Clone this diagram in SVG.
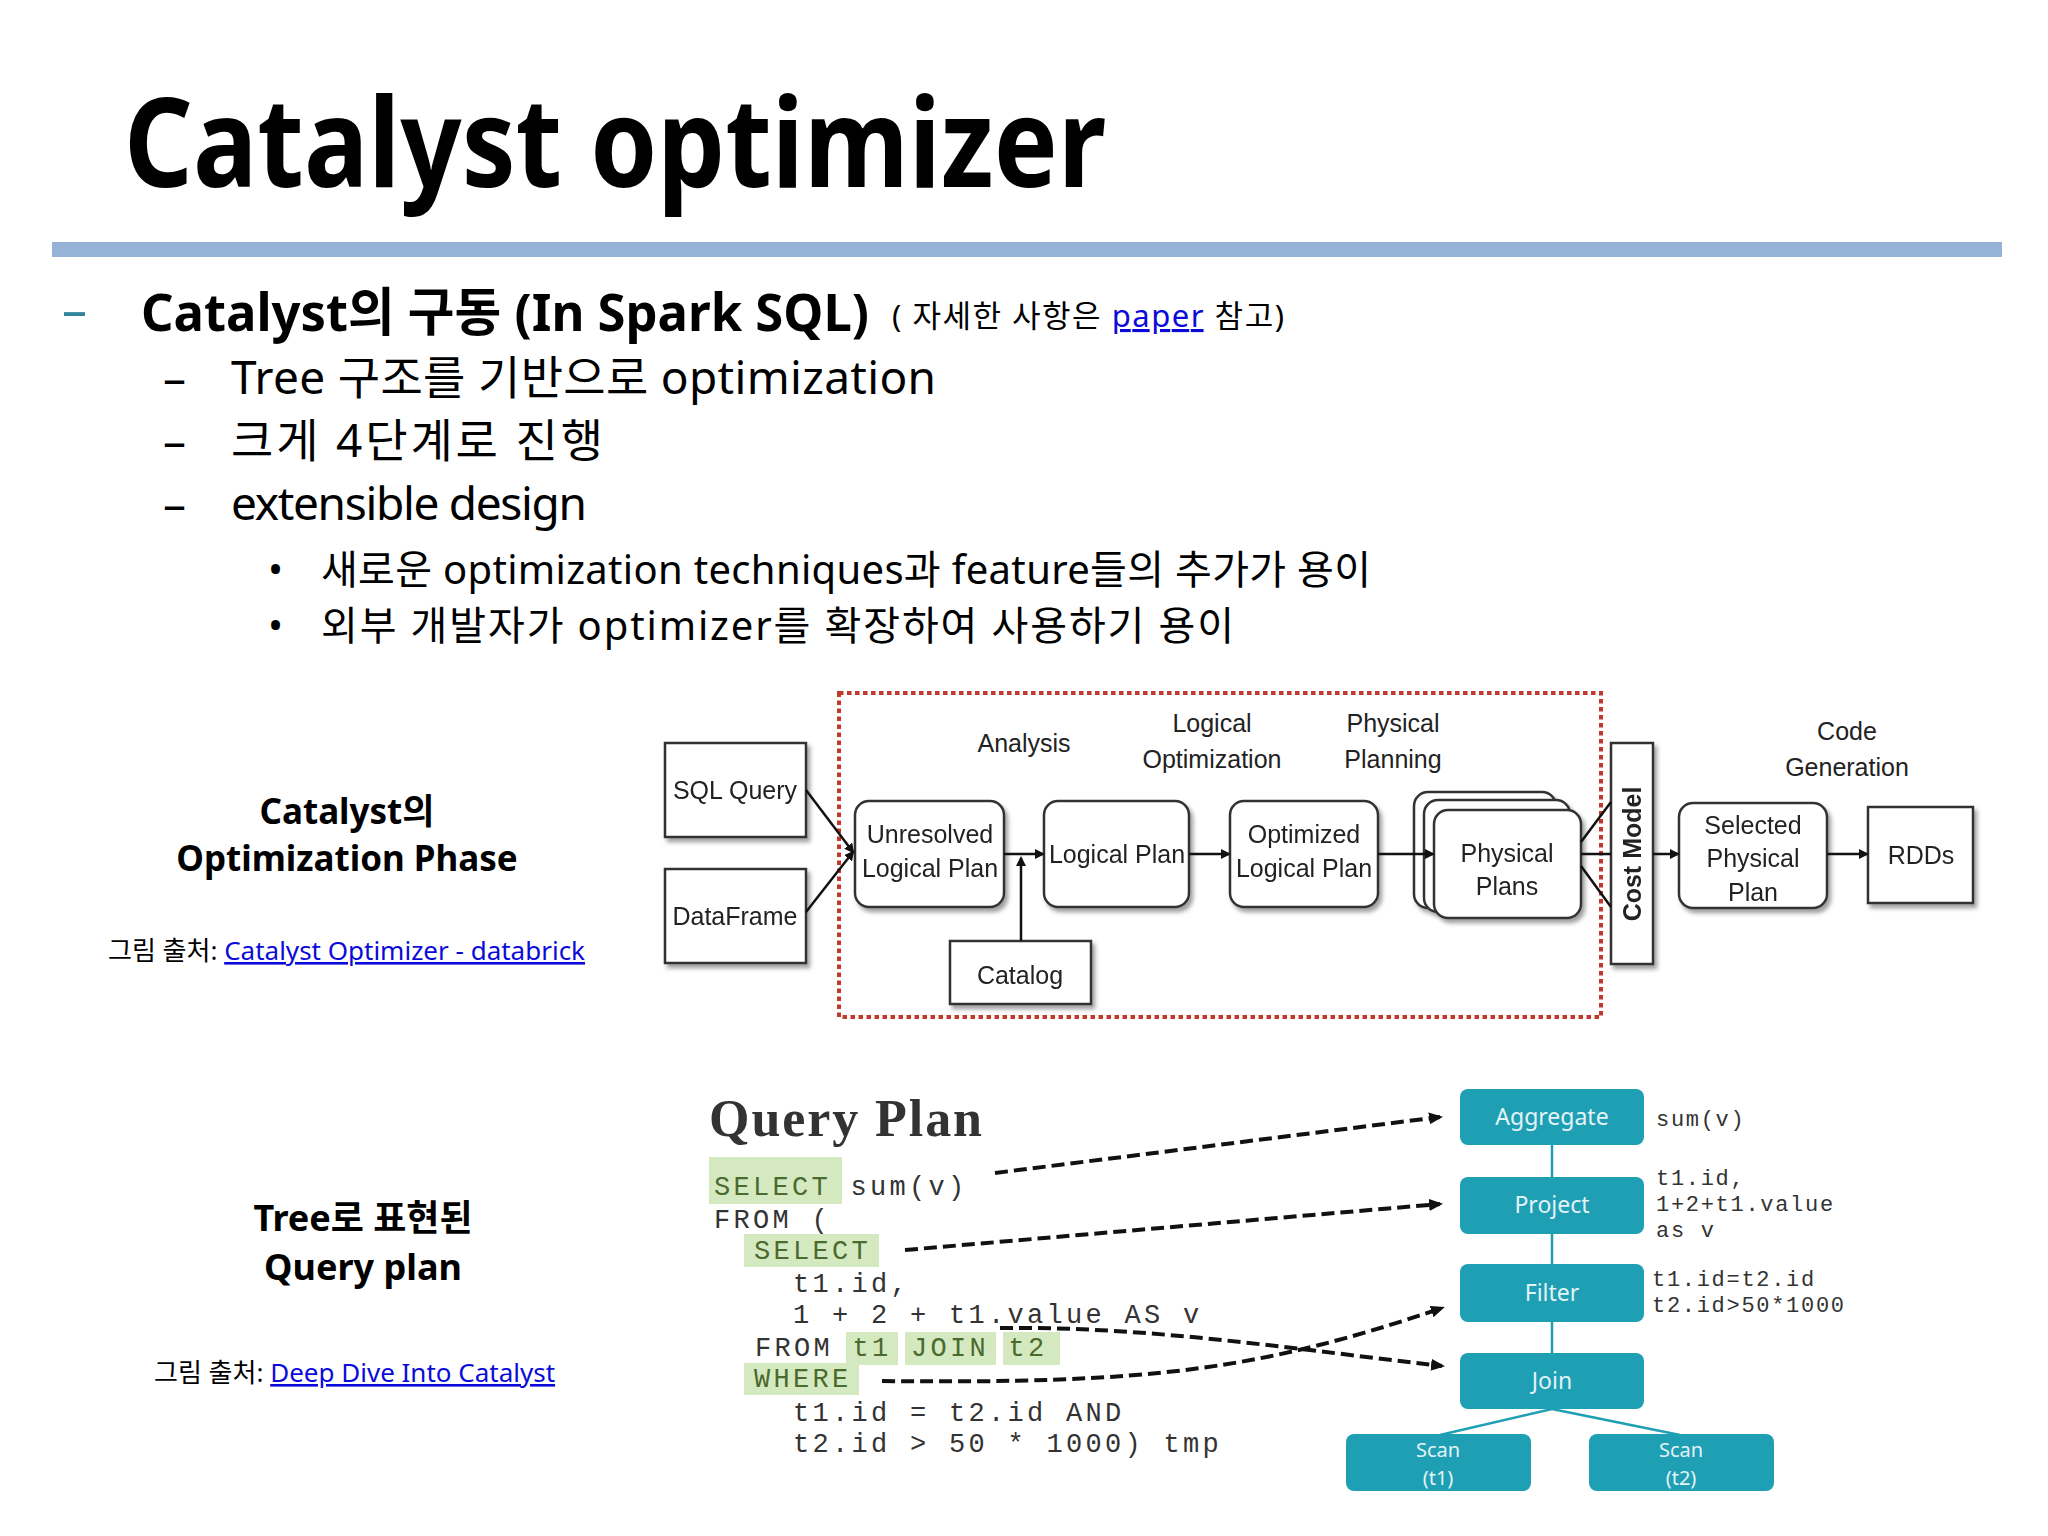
<svg xmlns="http://www.w3.org/2000/svg" width="2048" height="1536" viewBox="0 0 2048 1536">
<style>
.k{font-family:"Noto Sans","Noto Sans CJK KR",sans-serif;fill:#000}
.b{font-weight:bold}
.lnk{fill:#0b0bd9;text-decoration:underline}
.d{font-family:"Liberation Sans",Arial,sans-serif;font-size:25px;fill:#222;text-anchor:middle}
.box{fill:#fff;stroke:#333;stroke-width:2.5}
.ar{stroke:#111;stroke-width:2.5;fill:none}
.code{font-family:"Liberation Mono",monospace;font-size:27px;letter-spacing:3.3px;fill:#333}
.hl{fill:#d5e9c0}
.hlt{fill:#4a6a2e}
.tn{fill:#1e9fb4}
.tt{font-family:"Noto Sans",sans-serif;font-size:23px;fill:#e3f3f6;text-anchor:middle}
.ts{font-family:"Noto Sans",sans-serif;font-size:20px;fill:#e3f3f6;text-anchor:middle}
.an{font-family:"Liberation Mono",monospace;font-size:22px;letter-spacing:1.7px;fill:#333}
.da{stroke:#111;stroke-width:4;stroke-dasharray:13 6;fill:none}
</style>
<defs>
<marker id="ah" markerWidth="10" markerHeight="10" refX="8" refY="5" orient="auto" markerUnits="userSpaceOnUse"><path d="M0,0 L10,5 L0,10 z" fill="#111"/></marker>
<marker id="ah2" markerWidth="14" markerHeight="12" refX="11" refY="6" orient="auto" markerUnits="userSpaceOnUse"><path d="M0,0 L14,6 L0,12 z" fill="#111"/></marker>
<filter id="sh" x="-10%" y="-10%" width="130%" height="130%"><feDropShadow dx="3" dy="4" stdDeviation="2" flood-color="#777" flood-opacity="0.7"/></filter>
</defs>
<rect width="2048" height="1536" fill="#fff"/>

<g id="header">
<text class="k b" x="124" y="187" font-size="124" textLength="982" lengthAdjust="spacingAndGlyphs">Catalyst optimizer</text>
<rect x="52" y="242" width="1950" height="15" fill="#94b3d6"/>
</g>

<g id="bullets">
<text class="k" x="62" y="327" font-size="50" style="fill:#31849b">–</text>
<text class="k b" x="141" y="331" font-size="52" textLength="728" lengthAdjust="spacingAndGlyphs">Catalyst의 구동 (In Spark SQL)</text>
<text class="k" x="892" y="327" font-size="31" textLength="392">( 자세한 사항은 <tspan class="lnk">paper</tspan> 참고)</text>
<text class="k" x="163" y="394" font-size="46">–</text>
<text class="k" x="231" y="394" font-size="46" textLength="705">Tree 구조를 기반으로 optimization</text>
<text class="k" x="163" y="457" font-size="46">–</text>
<text class="k" x="231" y="457" font-size="46" textLength="372">크게 4단계로 진행</text>
<text class="k" x="163" y="520" font-size="46">–</text>
<text class="k" x="231" y="520" font-size="46" textLength="356">extensible design</text>
<text class="k" x="268" y="584" font-size="40">•</text>
<text class="k" x="321" y="584" font-size="40" textLength="1050">새로운 optimization techniques과 feature들의 추가가 용이</text>
<text class="k" x="268" y="640" font-size="40">•</text>
<text class="k" x="321" y="640" font-size="40" textLength="913">외부 개발자가 optimizer를 확장하여 사용하기 용이</text>
</g>

<g id="captions">
<text class="k b" x="347" y="824" font-size="35" text-anchor="middle">Catalyst의</text>
<text class="k b" x="347" y="871" font-size="35" text-anchor="middle">Optimization Phase</text>
<text class="k" x="108" y="960" font-size="26">그림 출처: <tspan class="lnk">Catalyst Optimizer - databrick</tspan></text>
<text class="k b" x="363" y="1231" font-size="36" text-anchor="middle">Tree로 표현된</text>
<text class="k b" x="363" y="1280" font-size="36" text-anchor="middle">Query plan</text>
<text class="k" x="154" y="1382" font-size="26">그림 출처: <tspan class="lnk">Deep Dive Into Catalyst</tspan></text>
</g>

<!-- Diagram 1 -->
<g id="phase-box">
<rect x="839" y="693" width="762" height="324" fill="none" stroke="#c0392b" stroke-width="4" stroke-dasharray="4.5 3.5"/>
</g>
<g id="phase-labels">
<text class="d" x="1024" y="752">Analysis</text>
<text class="d" x="1212" y="732">Logical</text>
<text class="d" x="1212" y="768">Optimization</text>
<text class="d" x="1393" y="732">Physical</text>
<text class="d" x="1393" y="768">Planning</text>
<text class="d" x="1847" y="740">Code</text>
<text class="d" x="1847" y="776">Generation</text>
</g>
<g id="sql-query" filter="url(#sh)"><rect class="box" x="665" y="743" width="141" height="94"/><text class="d" x="735" y="799">SQL Query</text></g>
<g id="dataframe" filter="url(#sh)"><rect class="box" x="665" y="869" width="141" height="94"/><text class="d" x="735" y="925">DataFrame</text></g>
<g id="unresolved" filter="url(#sh)"><rect class="box" x="855" y="801" width="149" height="106" rx="14"/><text class="d" x="930" y="843">Unresolved</text><text class="d" x="930" y="877">Logical Plan</text></g>
<g id="logical-plan" filter="url(#sh)"><rect class="box" x="1044" y="801" width="145" height="106" rx="14"/><text class="d" x="1117" y="863">Logical Plan</text></g>
<g id="optimized" filter="url(#sh)"><rect class="box" x="1230" y="801" width="148" height="106" rx="14"/><text class="d" x="1304" y="843">Optimized</text><text class="d" x="1304" y="877">Logical Plan</text></g>
<g id="physical-plans" filter="url(#sh)">
<rect class="box" x="1414" y="792" width="142" height="116" rx="14"/>
<rect class="box" x="1424" y="800" width="146" height="112" rx="14"/>
<rect class="box" x="1434" y="810" width="147" height="108" rx="14"/>
<text class="d" x="1507" y="862">Physical</text><text class="d" x="1507" y="895">Plans</text></g>
<g id="cost-model" filter="url(#sh)"><rect class="box" x="1611" y="743" width="42" height="221"/><text class="d" x="0" y="0" font-weight="bold" transform="translate(1641,854) rotate(-90)">Cost Model</text></g>
<g id="selected" filter="url(#sh)"><rect class="box" x="1679" y="803" width="148" height="105" rx="14"/><text class="d" x="1753" y="834">Selected</text><text class="d" x="1753" y="867">Physical</text><text class="d" x="1753" y="901">Plan</text></g>
<g id="rdds" filter="url(#sh)"><rect class="box" x="1868" y="807" width="105" height="96"/><text class="d" x="1921" y="864">RDDs</text></g>
<g id="catalog" filter="url(#sh)"><rect class="box" x="950" y="941" width="141" height="63"/><text class="d" x="1020" y="984">Catalog</text></g>

<g id="connectors1">
<line class="ar" x1="806" y1="790" x2="853" y2="852" marker-end="url(#ah)"/>
<line class="ar" x1="806" y1="912" x2="853" y2="852" marker-end="url(#ah)"/>
<line class="ar" x1="1004" y1="854" x2="1043" y2="854" marker-end="url(#ah)"/>
<line class="ar" x1="1021" y1="941" x2="1021" y2="858" marker-end="url(#ah)"/>
<line class="ar" x1="1189" y1="854" x2="1229" y2="854" marker-end="url(#ah)"/>
<line class="ar" x1="1378" y1="854" x2="1433" y2="854" marker-end="url(#ah)"/>
<line class="ar" x1="1581" y1="842" x2="1611" y2="802"/>
<line class="ar" x1="1581" y1="854" x2="1611" y2="854"/>
<line class="ar" x1="1581" y1="866" x2="1611" y2="907"/>
<line class="ar" x1="1653" y1="854" x2="1678" y2="854" marker-end="url(#ah)"/>
<line class="ar" x1="1827" y1="854" x2="1867" y2="854" marker-end="url(#ah)"/>
</g>

<!-- Diagram 2 -->
<g id="query-code">
<text x="709" y="1136" font-family="Liberation Serif,serif" font-weight="bold" font-size="52" fill="#333" textLength="273">Query Plan</text>
<rect class="hl" x="709" y="1157" width="133" height="47"/>
<rect class="hl" x="744" y="1234" width="135" height="33"/>
<rect class="hl" x="846" y="1332" width="52" height="33"/>
<rect class="hl" x="905" y="1332" width="91" height="33"/>
<rect class="hl" x="1003" y="1332" width="57" height="33"/>
<rect class="hl" x="744" y="1363" width="115" height="32"/>
<text class="code" x="714" y="1195"><tspan class="hlt">SELECT</tspan> sum(v)</text>
<text class="code" x="714" y="1228">FROM (</text>
<text class="code" x="754" y="1259"><tspan class="hlt">SELECT</tspan></text>
<text class="code" x="793" y="1292">t1.id,</text>
<text class="code" x="793" y="1323">1 + 2 + t1.value AS v</text>
<text class="code" x="755" y="1356">FROM <tspan class="hlt">t1</tspan> <tspan class="hlt">JOIN</tspan> <tspan class="hlt">t2</tspan></text>
<text class="code" x="754" y="1387"><tspan class="hlt">WHERE</tspan></text>
<text class="code" x="793" y="1421">t1.id = t2.id AND</text>
<text class="code" x="793" y="1452">t2.id &gt; 50 * 1000) tmp</text>
</g>

<g id="tree-edges">
<line x1="1552" y1="1145" x2="1552" y2="1353" stroke="#1e9fb4" stroke-width="2.5"/>
<line x1="1552" y1="1409" x2="1440" y2="1435" stroke="#1e9fb4" stroke-width="2.5"/>
<line x1="1552" y1="1409" x2="1680" y2="1435" stroke="#1e9fb4" stroke-width="2.5"/>
</g>
<g id="aggregate"><rect class="tn" x="1460" y="1089" width="184" height="56" rx="8"/><text class="tt" x="1552" y="1125">Aggregate</text></g>
<g id="project"><rect class="tn" x="1460" y="1177" width="184" height="57" rx="8"/><text class="tt" x="1552" y="1213">Project</text></g>
<g id="filter"><rect class="tn" x="1460" y="1264" width="184" height="58" rx="8"/><text class="tt" x="1552" y="1301">Filter</text></g>
<g id="join"><rect class="tn" x="1460" y="1353" width="184" height="56" rx="8"/><text class="tt" x="1552" y="1389">Join</text></g>
<g id="scan-t1"><rect class="tn" x="1346" y="1434" width="185" height="57" rx="8"/><text class="ts" x="1438" y="1457">Scan</text><text class="ts" x="1438" y="1485">(t1)</text></g>
<g id="scan-t2"><rect class="tn" x="1589" y="1434" width="185" height="57" rx="8"/><text class="ts" x="1681" y="1457">Scan</text><text class="ts" x="1681" y="1485">(t2)</text></g>
<g id="annotations">
<text class="an" x="1656" y="1126">sum(v)</text>
<text class="an" x="1656" y="1185">t1.id,</text>
<text class="an" x="1656" y="1211">1+2+t1.value</text>
<text class="an" x="1656" y="1237">as v</text>
<text class="an" x="1652" y="1286">t1.id=t2.id</text>
<text class="an" x="1652" y="1312">t2.id&gt;50*1000</text>
</g>

<g id="connectors2">
<path class="da" d="M995,1173 L1440,1117" marker-end="url(#ah2)"/>
<path class="da" d="M905,1250 L1440,1204" marker-end="url(#ah2)"/>
<path class="da" d="M1000,1328 C1150,1326 1300,1350 1442,1366" marker-end="url(#ah2)"/>
<path class="da" d="M882,1381 C1150,1384 1260,1370 1442,1308" marker-end="url(#ah2)"/>
</g>
</svg>
